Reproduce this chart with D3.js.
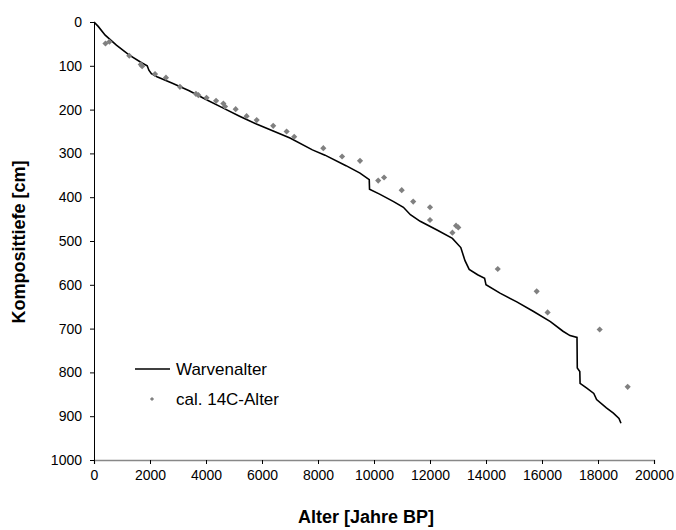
<!DOCTYPE html>
<html>
<head>
<meta charset="utf-8">
<script src="https://cdn.jsdelivr.net/npm/d3@7"></script>
<style>
body { margin: 0; background: #fff; }
text { font-family: "Liberation Sans", Arial, sans-serif; }
</style>
</head>
<body>
<div id="chart"></div>
<script>
// chart size and plot box
var width = 676;
var height = 530;
var plotLeft = 94, plotRight = 654, plotTop = 22, plotBottom = 460;

// Warvenalter: [age, depth]
var warveAge = [0, 150, 400, 800, 1250, 1700, 1900, 1960, 2050, 2250, 2800, 3400, 4000, 4600, 5200, 5800, 6400, 7000,
    7800, 8250, 9000, 9500, 9830, 9840, 10200, 10700, 11050, 11300, 11650, 12250, 12800, 13100, 13250, 13400,
    13700, 13950, 14000, 14500, 15100, 15700, 16300, 16750, 17000, 17250, 17260, 17350, 17360, 17600, 17850,
    17950, 18300, 18550, 18750, 18820];
var warveDepth = [0, 10, 30, 53, 75, 93, 100, 110, 118, 125, 140, 157, 177, 196, 215, 233, 249, 265,
    292, 304, 328, 345, 360, 382, 393, 410, 423, 440, 455, 475, 494, 515, 545, 565,
    577, 585, 600, 619, 639, 661, 684, 706, 716, 720, 790, 798, 825, 836, 848,
    862, 881, 893, 905, 916];

// cal. 14C-Alter
var c14Age = [410, 550, 1260, 1670, 1720, 2180, 2570, 3070, 3640, 3730, 4020, 4360, 4620, 4680, 5060, 5450, 5810,
    6400, 6880, 7150, 8190, 8860, 9500, 10150, 10360, 10990, 11400, 12000, 12000, 12800, 12930, 13010,
    14420, 15810, 16200, 18060, 19060];
var c14Depth = [49, 45, 77, 97, 101, 119, 127, 148, 164, 167, 173, 180, 186, 193, 199, 215, 224,
    237, 250, 262, 288, 307, 317, 362, 355, 384, 410, 423, 452, 481, 465, 469,
    564, 615, 663, 702, 833];

var xTicks = [0, 2000, 4000, 6000, 8000, 10000, 12000, 14000, 16000, 18000, 20000];
var yTicks = [0, 100, 200, 300, 400, 500, 600, 700, 800, 900, 1000];

var svg = d3.select("#chart")
    .append("svg")
        .attr("width", width)
        .attr("height", height);

var x = d3.scaleLinear().domain([0, 20000]).range([plotLeft, plotRight]);
var y = d3.scaleLinear().domain([0, 1000]).range([plotTop, plotBottom]);

// x axis (grey line, black ticks)
var xAxis = svg.append("g")
    .attr("transform", "translate(0," + plotBottom + ")")
    .call(d3.axisBottom(x).tickValues(xTicks).tickSize(4).tickPadding(6).tickFormat(d3.format("d")));
xAxis.select(".domain").attr("stroke", "#888").attr("stroke-width", 1.3);
xAxis.selectAll(".tick line").attr("stroke", "#000");
xAxis.selectAll("text").style("font-size", "14px").attr("fill", "#000");

// y axis
var yAxis = svg.append("g")
    .attr("transform", "translate(" + plotLeft + ",0)")
    .call(d3.axisLeft(y).tickValues(yTicks).tickSize(4).tickPadding(8).tickFormat(d3.format("d")));
yAxis.select(".domain").attr("stroke", "#000");
yAxis.selectAll("text").style("font-size", "14px").attr("fill", "#000");

// warve line
var lineData = warveAge.map(function(a, i) { return [a, warveDepth[i]]; });
svg.append("path")
    .datum(lineData)
    .attr("fill", "none")
    .attr("stroke", "#000")
    .attr("stroke-width", 1.6)
    .attr("d", d3.line().x(function(d) { return x(d[0]); }).y(function(d) { return y(d[1]); }));

// 14C points
var pts = c14Age.map(function(a, i) { return [a, c14Depth[i]]; });
svg.selectAll(".pt")
    .data(pts)
    .enter()
    .append("path")
    .attr("class", "pt")
    .attr("d", d3.symbol(d3.symbolSquare, 19))
    .attr("transform", function(d) { return "translate(" + x(d[0]) + "," + y(d[1]) + ")rotate(45)"; })
    .attr("fill", "#808080");

// axis titles
svg.append("text")
    .attr("x", 366)
    .attr("y", 523)
    .attr("text-anchor", "middle")
    .style("font-size", "18px")
    .style("font-weight", "bold")
    .text("Alter [Jahre BP]");

svg.append("text")
    .attr("transform", "translate(25,242)rotate(-90)")
    .attr("text-anchor", "middle")
    .style("font-size", "18px")
    .style("font-weight", "bold")
    .text("Komposittiefe [cm]");

// legend
svg.append("line")
    .attr("x1", 135).attr("x2", 170)
    .attr("y1", 369).attr("y2", 369)
    .attr("stroke", "#000")
    .attr("stroke-width", 1.3);
svg.append("text")
    .attr("x", 176).attr("y", 375)
    .style("font-size", "17px")
    .text("Warvenalter");
svg.append("path")
    .attr("d", d3.symbol(d3.symbolSquare, 9))
    .attr("transform", "translate(152,399)rotate(45)")
    .attr("fill", "#808080");
svg.append("text")
    .attr("x", 176).attr("y", 405)
    .style("font-size", "17px")
    .text("cal. 14C-Alter");
</script>
</body>
</html>
